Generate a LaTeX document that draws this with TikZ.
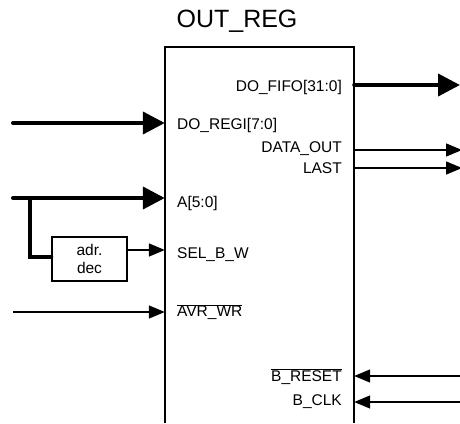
\documentclass[tikz,border=0pt]{standalone}
\usepackage{fontspec}
\setmainfont{Liberation Sans}
\usepackage{tikz}
\usetikzlibrary{
    arrows.meta,
    positioning
}

\tikzset{
    bus/.style={line width=4pt, line cap=round, -{Triangle[length=22pt,width=22pt]}},
    wire/.style={line width=1.5pt, -{Triangle[length=16pt,width=13pt]}},
    pinl/.style={anchor=west, inner sep=0pt, font=\fontsize{15.5}{17}\selectfont},
    pinr/.style={anchor=east, inner sep=0pt, font=\fontsize{15.5}{17}\selectfont}
}

\begin{document}
\begin{tikzpicture}[x=1pt,y=-1pt]
\useasboundingbox (0,0) rectangle (460,423);

% Block (open at the bottom)
\node[minimum width=189pt, minimum height=376pt, inner sep=0pt] (outreg) at (259.5,235) {};
\draw[line width=1.5pt] (outreg.south west) |- (outreg.north east) -- (outreg.south east);
\node[font=\fontsize{25}{28}\selectfont] (title) at (237,21) {OUT\_REG};

% Address decoder
\node[draw, line width=1.5pt, minimum width=75pt, minimum height=44pt, inner sep=0pt,
      align=center, font=\fontsize{15.5}{18}\selectfont] (adrdec) at (89.5,259) {adr.\\dec};

% Pin labels
\node[pinr] (dofifo) at (342,87) {DO\_FIFO[31:0]};
\node[pinl] (doregi) at (177,125) {DO\_REGI[7:0]};
\node[pinr] (dataout) at (342,149) {DATA\_OUT};
\node[pinr] (last) at (342,168) {LAST};
\node[pinl] (addr) at (177,203) {A[5:0]};
\node[pinl] (selbw) at (177,255) {SEL\_B\_W};
\node[pinl] (avrwr) at (177,312) {$\overline{\mbox{AVR\_WR}}$};
\node[pinr] (breset) at (342,377) {$\overline{\mbox{B\_RESET}}$};
\node[pinr] (bclk) at (342,402) {B\_CLK};

% Free ends
\coordinate (in1) at (13,123);
\coordinate (in2) at (13,198);
\coordinate (in3) at (13,312);
\coordinate (br) at (30,198);
\coordinate (out1) at (460,85);
\coordinate (out2) at (462,150);
\coordinate (out3) at (462,168);
\coordinate (rst) at (460,376);
\coordinate (clk) at (460,402);

% Inputs
\draw[bus] (in1) -- (in1 -| outreg.west);
\draw[bus] (in2) -- (in2 -| outreg.west);
\draw[line width=4pt, line cap=round] (br) |- (adrdec.west |- 0,257);
\draw[wire] (adrdec.east |- 0,250) -- (outreg.west |- 0,250);
\draw[wire] (in3) -- (in3 -| outreg.west);

% Outputs
\draw[bus] (out1 -| outreg.east) -- (out1);
\draw[wire] (out2 -| outreg.east) -- (out2);
\draw[wire] (out3 -| outreg.east) -- (out3);
\draw[wire] (rst) -- (rst -| outreg.east);
\draw[wire] (clk) -- (clk -| outreg.east);

\end{tikzpicture}
\end{document}
